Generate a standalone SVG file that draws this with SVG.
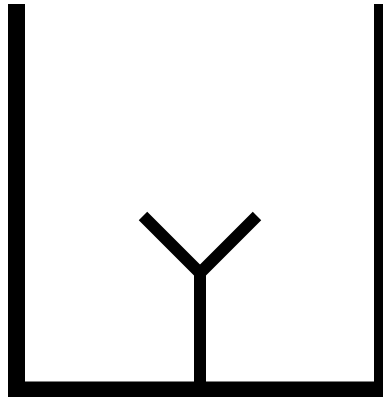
<svg xmlns="http://www.w3.org/2000/svg" width="383" height="399" viewBox="0 0 383 399">
<style>
.wall{fill:#000}
.br{fill:none;stroke:#000;stroke-width:12;stroke-linecap:butt;stroke-linejoin:miter}
</style>
<rect width="383" height="399" fill="#fff"/>
<g id="container">
<rect class="wall" x="8" y="4" width="17" height="393"/>
<rect class="wall" x="374" y="4" width="12" height="393"/>
<rect class="wall" x="8" y="381.5" width="378" height="15.5"/>
</g>
<g id="connectors">
<polyline class="br" points="143,216 200,273 257,216"/>
<line class="br" x1="200" y1="270" x2="200" y2="382"/>
</g>
</svg>
